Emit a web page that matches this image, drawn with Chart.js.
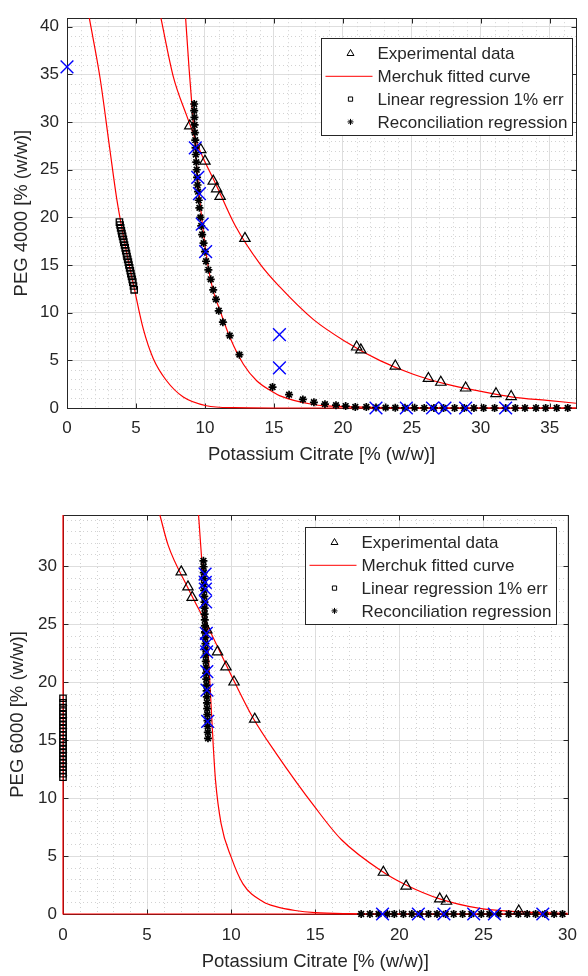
<!DOCTYPE html>
<html>
<head>
<meta charset="utf-8">
<script src="https://cdn.jsdelivr.net/npm/chart.js"></script>
<style>
  html, body { margin: 0; padding: 0; background: #fff; }
  canvas { display: block; }
</style>
</head>
<body>
<canvas id="peg4000Chart" width="588" height="488"></canvas>
<canvas id="peg6000Chart" width="588" height="488"></canvas>
<script>
// ---------- PEG 4000 (top panel) ----------
const expX4000 = [8.9, 9.7, 10.0, 10.6, 10.85, 11.1, 12.9, 21.0, 21.3, 23.8, 26.2, 27.1, 28.9, 31.1, 32.2];
const expY4000 = [29.6, 27.1, 25.9, 23.8, 23.0, 22.2, 17.8, 6.4, 6.1, 4.4, 3.1, 2.7, 2.1, 1.5, 1.2];

const fitAX4000 = [1.62, 2.4, 3.1, 3.6, 4.2, 4.87, 5.53, 6.25, 7.22, 8.43, 10.1, 12.1, 15, 20, 30, 36.9];
const fitAY4000 = [40.9, 34.6, 27.2, 22.0, 17.2, 12.6, 8.3, 5.2, 2.86, 1.15, 0.24, 0.03, 0, 0, 0, 0];
const fitBX4000 = [8.6, 8.85, 9.1, 9.4, 9.76, 10.15, 10.6, 11.1, 11.8, 12.8, 13.75, 14.95, 15.4, 17.85, 20.3, 25, 30, 36.9];
const fitBY4000 = [40.9, 35.6, 31.0, 25.4, 20.0, 15.6, 12.3, 10.2, 7.45, 4.56, 2.86, 1.66, 1.3, 0.37, 0.14, 0.02, 0, 0];
const fitCX4000 = [6.81, 7.7, 8.67, 9.64, 10.85, 12.17, 14.0, 15.43, 17.85, 20.27, 22.7, 25.1, 27.5, 29.9, 32.3, 34.8, 36.9];
const fitCY4000 = [40.9, 34.8, 30.7, 27.0, 23.3, 19.2, 15.1, 12.7, 9.3, 6.9, 4.97, 3.54, 2.5, 1.77, 1.15, 0.8, 0.5];

const linX4000 = [3.80, 3.85, 3.89, 3.94, 3.98, 4.03, 4.08, 4.12, 4.17, 4.22, 4.26, 4.31, 4.35, 4.40, 4.45, 4.49, 4.54, 4.59, 4.63, 4.68, 4.73, 4.77, 4.82, 4.87];
const linY4000 = [19.5, 19.2, 18.9, 18.6, 18.3, 18.0, 17.7, 17.4, 17.1, 16.8, 16.5, 16.2, 15.9, 15.6, 15.3, 15.0, 14.7, 14.4, 14.1, 13.8, 13.5, 13.2, 12.8, 12.4];

const recX4000 = [9.22, 9.22, 9.24, 9.25, 9.27, 9.30, 9.32, 9.34, 9.37, 9.40, 9.43, 9.46, 9.50, 9.55, 9.60, 9.67, 9.73, 9.80, 9.90, 10.0,
  10.08, 10.25, 10.42, 10.6, 10.8, 11.0, 11.3, 11.8, 12.5, 14.9, 16.1, 17.1, 17.9, 18.7, 19.5, 20.2, 20.9, 21.7, 22.4, 23.1,
  23.8, 24.5, 25.2, 25.9, 26.6, 27.3, 28.1, 28.8, 29.5, 30.2, 31.0, 31.8, 32.5, 33.2, 34.0, 34.7, 35.5, 36.3];
const recY4000 = [31.9, 31.2, 30.5, 29.7, 28.9, 28.1, 27.3, 26.6, 25.8, 25.0, 24.2, 23.4, 22.7, 21.8, 21.0, 20.0, 19.1, 18.2, 17.3, 16.4,
  15.4, 14.5, 13.5, 12.4, 11.4, 10.2, 9.0, 7.6, 5.6, 2.2, 1.4, 0.9, 0.6, 0.4, 0.3, 0.2, 0.1, 0.1, 0.05, 0.04,
  0.03, 0.02, 0.02, 0.01, 0.01, 0, 0, 0, 0, 0, 0, 0, 0, 0, 0, 0, 0, 0];

const xX4000 = [0, 9.3, 9.48, 9.6, 9.8, 10.05, 15.4, 15.4, 22.4, 24.6, 26.5, 27.4, 28.9, 31.8];
const xY4000 = [35.8, 27.3, 24.2, 22.5, 19.3, 16.4, 7.7, 4.2, 0, 0, 0, 0, 0, 0];

// ---------- PEG 6000 (bottom panel) ----------
const expX6000 = [7.03, 7.43, 7.68, 8.55, 9.19, 9.69, 10.17, 11.4, 19.05, 20.4, 22.4, 22.8, 27.1];
const expY6000 = [29.5, 28.2, 27.3, 24.5, 22.6, 21.3, 20.0, 16.8, 3.6, 2.4, 1.3, 1.1, 0.26];

const fitAX6000 = [0, 0, 30];
const fitAY6000 = [34.4, 0, 0];
const fitBX6000 = [8.06, 8.3, 8.55, 8.75, 8.93, 9.07, 9.4, 10.0, 10.7, 11.9, 12.67, 13.8, 15, 17, 20, 30];
const fitBY6000 = [34.4, 29.5, 24.5, 19.5, 14.6, 11.5, 7.8, 4.9, 2.6, 1.06, 0.63, 0.3, 0.12, 0.03, 0, 0];
const fitCX6000 = [5.76, 6.25, 7.4, 8.7, 10.2, 11.3, 12.67, 14.96, 16.56, 19.05, 20.4, 22.4, 24.7, 27, 30];
const fitCY6000 = [34.4, 31.8, 28.2, 24.5, 20.0, 16.9, 13.85, 9.25, 6.4, 3.6, 2.5, 1.3, 0.5, 0.2, 0.05];

const linX6000 = [0, 0, 0, 0, 0, 0, 0, 0, 0, 0, 0, 0, 0, 0, 0, 0, 0, 0, 0, 0, 0, 0, 0];
const linY6000 = [11.8, 12.1, 12.4, 12.7, 13.0, 13.3, 13.6, 13.9, 14.2, 14.5, 14.8, 15.1, 15.4, 15.7, 16.0, 16.3, 16.6, 16.9, 17.2, 17.5, 17.8, 18.2, 18.6];

const recX6000 = [8.35, 8.36, 8.37, 8.37, 8.38, 8.39, 8.40, 8.41, 8.42, 8.42, 8.43, 8.44, 8.45, 8.46, 8.47, 8.47, 8.48, 8.49, 8.50, 8.51,
  8.52, 8.53, 8.54, 8.55, 8.56, 8.57, 8.58, 8.59, 8.60, 8.61, 8.62,
  17.73, 18.25, 18.76, 19.28, 19.70, 20.24, 20.74, 21.23, 21.73, 22.24, 22.75, 23.23, 23.76, 24.28, 24.87, 25.35, 25.90, 26.50, 27.07,
  27.60, 28.10, 28.66, 29.20, 29.70];
const recY6000 = [30.45, 29.94, 29.43, 28.92, 28.41, 27.90, 27.39, 26.88, 26.37, 25.86, 25.35, 24.84, 24.33, 23.82, 23.31, 22.80, 22.29, 21.78, 21.27, 20.76,
  20.25, 19.74, 19.23, 18.72, 18.21, 17.70, 17.19, 16.68, 16.17, 15.66, 15.15,
  0, 0, 0, 0, 0, 0, 0, 0, 0, 0, 0, 0, 0, 0, 0, 0, 0, 0, 0, 0, 0, 0, 0, 0];

const xX6000 = [8.45, 8.46, 8.47, 8.48, 8.52, 8.53, 8.54, 8.55, 8.56, 8.6, 19.0, 21.13, 22.65, 24.42, 25.65, 28.53];
const xY6000 = [29.3, 28.6, 28.0, 26.9, 24.2, 23.3, 22.6, 20.9, 19.3, 16.6, 0, 0, 0, 0, 0, 0];

const FONT = '"Liberation Sans", Arial, Helvetica, sans-serif';
const INK = '#262626';

function toPoints(xs, ys) {
  return xs.map((x, i) => ({ x: x, y: ys[i] }));
}

// minor dotted grid, box with inward ticks, and a MATLAB-like legend
const matlabAxes = {
  id: 'matlabAxes',
  beforeDatasetsDraw(chart) {
    const { ctx, chartArea: a } = chart;
    const x = chart.scales.x, y = chart.scales.y;
    ctx.save();
    ctx.strokeStyle = '#d2d2d2';
    ctx.lineWidth = 1;
    ctx.setLineDash([1, 3]);
    ctx.beginPath();
    for (let v = Math.ceil(x.min); v <= x.max; v++) {
      if (v % 5 === 0) continue;
      const px = Math.round(x.getPixelForValue(v)) + 0.5;
      ctx.moveTo(px, a.top);
      ctx.lineTo(px, a.bottom);
    }
    for (let v = Math.ceil(y.min); v <= y.max; v++) {
      if (v % 5 === 0) continue;
      const py = Math.round(y.getPixelForValue(v)) + 0.5;
      ctx.moveTo(a.left, py);
      ctx.lineTo(a.right, py);
    }
    ctx.stroke();
    ctx.setLineDash([]);

    ctx.strokeStyle = INK;
    const l = Math.round(a.left) + 0.5, t = Math.round(a.top) + 0.5;
    const r = Math.round(a.right) + 0.5, b = Math.round(a.bottom) + 0.5;
    ctx.strokeRect(l, t, r - l, b - t);
    ctx.beginPath();
    x.ticks.forEach(tk => {
      const px = Math.round(x.getPixelForValue(tk.value)) + 0.5;
      ctx.moveTo(px, b); ctx.lineTo(px, b - 5);
      ctx.moveTo(px, t); ctx.lineTo(px, t + 5);
    });
    y.ticks.forEach(tk => {
      const py = Math.round(y.getPixelForValue(tk.value)) + 0.5;
      ctx.moveTo(l, py); ctx.lineTo(l + 5, py);
      ctx.moveTo(r, py); ctx.lineTo(r - 5, py);
    });
    ctx.stroke();
    ctx.restore();
  },
  afterDraw(chart, args, opts) {
    const { ctx, chartArea: a } = chart;
    const bx = Math.round(a.right - opts.right - 251) + 0.5;
    const by = Math.round(a.top + opts.top) + 0.5;
    ctx.save();
    ctx.fillStyle = '#fff';
    ctx.fillRect(bx, by, 251, 97);
    ctx.strokeStyle = INK;
    ctx.lineWidth = 1;
    ctx.strokeRect(bx, by, 251, 97);

    const items = chart.data.datasets.filter(d => d.legend);
    items.forEach((d, i) => {
      const cy = by + 15 + i * 22.8;
      const mx = bx + 29;
      ctx.lineWidth = 1;
      if (d.showLine) {
        ctx.strokeStyle = d.borderColor;
        ctx.beginPath();
        ctx.moveTo(bx + 4, cy);
        ctx.lineTo(bx + 51, cy);
        ctx.stroke();
      } else {
        ctx.strokeStyle = '#000';
        ctx.fillStyle = 'rgba(0,0,0,0)';
        Chart.helpers.drawPoint(ctx, {
          pointStyle: d.pointStyle,
          radius: d.legendRadius,
          borderWidth: 1.2,
          rotation: 0
        }, mx, cy);
      }
      ctx.fillStyle = INK;
      ctx.font = '17px ' + FONT;
      ctx.textBaseline = 'middle';
      ctx.textAlign = 'left';
      ctx.fillText(d.label, bx + 56, cy + 1);
    });
    ctx.restore();
  }
};

function curve(label, xs, ys, legend) {
  return {
    label: label, legend: legend, data: toPoints(xs, ys), showLine: true,
    borderColor: '#ff0000', borderWidth: 1.2, pointRadius: 0,
    cubicInterpolationMode: 'monotone', order: 3, clip: 3
  };
}

function makeChart(id, p) {
  const datasets = [
    { label: 'Experimental data', legend: true, data: toPoints(p.expX, p.expY), pointStyle: 'triangle',
      pointRadius: 6, legendRadius: 4, pointBorderWidth: 1.2, borderColor: '#000', backgroundColor: 'rgba(0,0,0,0)',
      showLine: false, order: 2, clip: false },
    curve('Merchuk fitted curve', p.fitAX, p.fitAY, true),
    curve('Merchuk fitted curve', p.fitBX, p.fitBY, false),
    curve('Merchuk fitted curve', p.fitCX, p.fitCY, false),
    { label: 'Linear regression 1% err', legend: true, data: toPoints(p.linX, p.linY), pointStyle: 'rect',
      pointRadius: 4.5, legendRadius: 3, pointBorderWidth: 1.3, borderColor: '#000', backgroundColor: 'rgba(0,0,0,0)',
      showLine: false, order: 2, clip: false },
    { label: 'Reconciliation regression', legend: true, data: toPoints(p.recX, p.recY), pointStyle: 'star',
      pointRadius: 4, legendRadius: 3, pointBorderWidth: 1.7, borderColor: '#000', backgroundColor: '#000',
      showLine: false, order: 1, clip: false },
    { label: 'tie lines', legend: false, data: toPoints(p.xX, p.xY), pointStyle: 'crossRot',
      pointRadius: 9, pointBorderWidth: 1.4, borderColor: '#0000ff', backgroundColor: '#0000ff',
      showLine: false, order: 0, clip: false }
  ];
  // straight L-shaped curve in the lower panel
  if (p.straightA) { datasets[1].cubicInterpolationMode = 'default'; datasets[1].tension = 0; }

  const ctx = document.getElementById(id).getContext('2d');
  return new Chart(ctx, {
    type: 'scatter',
    data: { datasets: datasets },
    options: {
      responsive: false,
      animation: false,
      events: [],
      layout: { padding: { top: p.padTop, right: p.padRight, left: 0, bottom: 0 } },
      plugins: {
        legend: { display: false },
        tooltip: { enabled: false },
        matlabAxes: { right: p.legRight, top: p.legTop }
      },
      scales: {
        x: {
          type: 'linear', min: 0, max: p.xMax,
          afterFit: s => { s.height = p.xAxisHeight; },
          ticks: { stepSize: 5, includeBounds: false, maxRotation: 0, color: INK, padding: p.xTickPad,
                   font: { family: FONT, size: 17 } },
          grid: { color: '#dedede', drawTicks: false },
          border: { display: false },
          title: { display: true, text: 'Potassium Citrate [% (w/w)]', color: INK,
                   font: { family: FONT, size: 18.5 }, padding: { top: 0, bottom: p.xTitlePad } }
        },
        y: {
          type: 'linear', min: 0, max: p.yMax,
          afterFit: s => { s.width = p.yAxisWidth; },
          ticks: { stepSize: 5, includeBounds: false, color: INK, padding: p.yTickPad,
                   font: { family: FONT, size: 17 } },
          grid: { color: '#dedede', drawTicks: false },
          border: { display: false },
          title: { display: true, text: p.yTitle, color: INK,
                   font: { family: FONT, size: 18.5 }, padding: { top: p.yTitlePad, bottom: 0 } }
        }
      }
    },
    plugins: [matlabAxes]
  });
}

makeChart('peg4000Chart', {
  expX: expX4000, expY: expY4000,
  fitAX: fitAX4000, fitAY: fitAY4000, fitBX: fitBX4000, fitBY: fitBY4000, fitCX: fitCX4000, fitCY: fitCY4000,
  linX: linX4000, linY: linY4000, recX: recX4000, recY: recY4000, xX: xX4000, xY: xY4000,
  xMax: 36.9, yMax: 40.9, yTitle: 'PEG 4000 [% (w/w)]',
  padTop: 7, padRight: 12, xAxisHeight: 80, yAxisWidth: 67,
  xTickPad: 10, yTickPad: 8, xTitlePad: 22, yTitlePad: 11,
  legRight: 4, legTop: 20
});

makeChart('peg6000Chart', {
  expX: expX6000, expY: expY6000,
  fitAX: fitAX6000, fitAY: fitAY6000, fitBX: fitBX6000, fitBY: fitBY6000, fitCX: fitCX6000, fitCY: fitCY6000,
  linX: linX6000, linY: linY6000, recX: recX6000, recY: recY6000, xX: xX6000, xY: xY6000,
  xMax: 30, yMax: 34.4, yTitle: 'PEG 6000 [% (w/w)]', straightA: true,
  padTop: 27, padRight: 13, xAxisHeight: 62, yAxisWidth: 63,
  xTickPad: 11, yTickPad: 6, xTitlePad: 3, yTitlePad: 7,
  legRight: 12, legTop: 12
});
</script>
</body>
</html>
